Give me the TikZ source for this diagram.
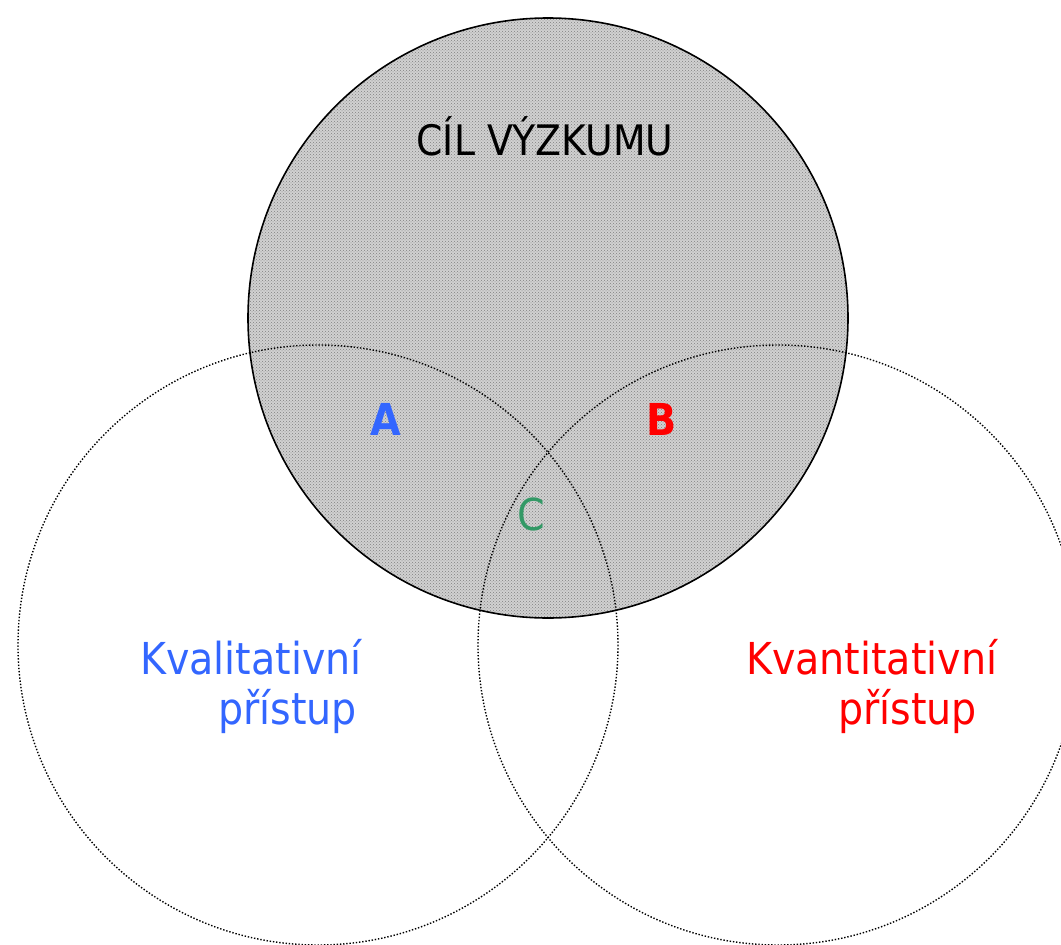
\documentclass[tikz,border=0pt]{standalone}
\usepackage{fontspec}
\setmainfont{DejaVu Sans Condensed}
\usetikzlibrary{patterns}
\definecolor{kvalblue}{RGB}{51,102,255}
\definecolor{kvanred}{RGB}{255,0,0}
\definecolor{bothgreen}{RGB}{51,153,102}
\tikzset{
  approach/.style={draw=black, line width=1.4pt, dash pattern=on 1.4pt off 1.8pt},
  goal/.style={draw=black, line width=1.6pt},
  bigtext/.style={font=\fontsize{44}{50}\selectfont, inner sep=0pt},
}
\begin{document}
\begin{tikzpicture}[x=1pt,y=-1pt]
\useasboundingbox (0,0) rectangle (1061,945);
\clip (0,0) rectangle (1061,945);
\fill[black!18] (548,318) circle (300);
\fill[pattern=crosshatch dots, pattern color=black!50] (548,318) circle (300);
\draw[approach] (318,645) circle (300);
\draw[approach] (778,645) circle (300);
\draw[goal] (548,318) circle (300);
\node[bigtext, font=\fontsize{42}{50}\selectfont] (cil) at (545,136) {CÍL VÝZKUMU};
\node[bigtext, text=kvalblue, font=\fontsize{44}{50}\bfseries] (a) at (386,419) {A};
\node[bigtext, text=kvanred, font=\fontsize{44}{50}\bfseries] (b) at (662,419) {B};
\node[bigtext, text=bothgreen] (c) at (531,514) {C};
\node[bigtext, text=kvalblue, align=left, anchor=north west] (kval) at (140,639) {Kvalitativní\\\hspace*{78pt}přístup};
\node[bigtext, text=kvanred, align=left, anchor=north west] (kvan) at (746,639) {Kvantitativní\\\hspace*{92pt}přístup};
\end{tikzpicture}
\end{document}
